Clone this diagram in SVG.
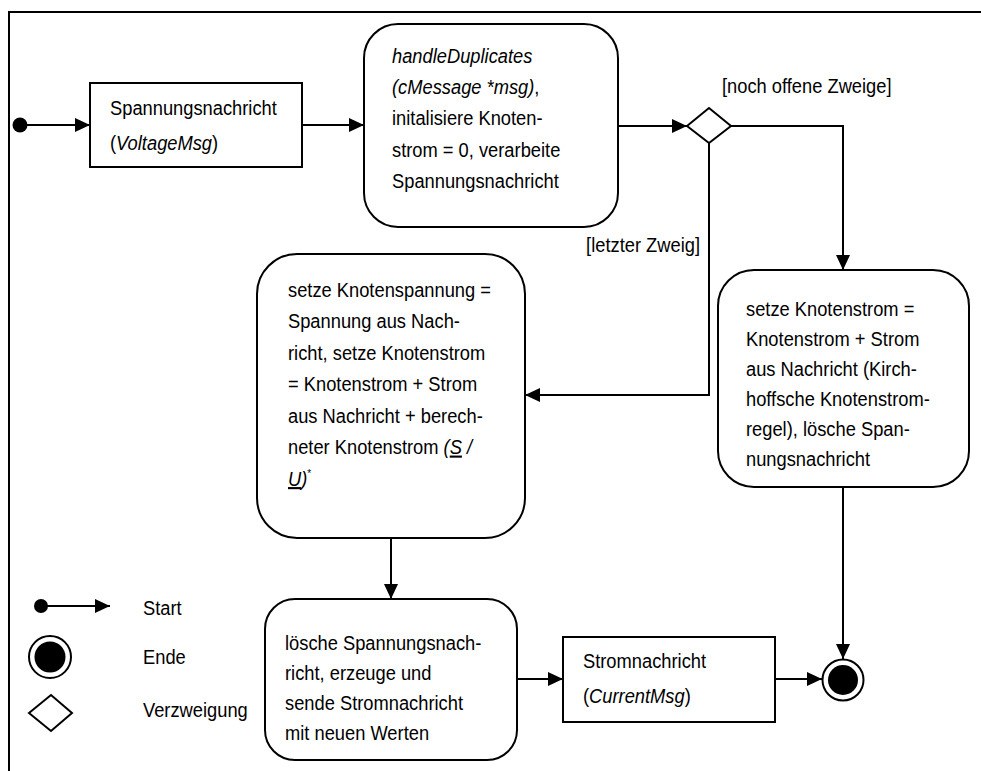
<svg xmlns="http://www.w3.org/2000/svg" width="981" height="771" viewBox="0 0 981 771">
  <defs>
    <marker id="arrow" markerUnits="userSpaceOnUse" markerWidth="15" markerHeight="14" refX="15" refY="7" orient="auto">
      <path d="M0,0 L15,7 L0,14 z" fill="#000"/>
    </marker>
    <style>
      text { font-family: "Liberation Sans", Arial, sans-serif; font-size: 18.3px; fill: #000; }
      .it { font-style: italic; }
      .ul { text-decoration: underline; }
      .node { fill: #fff; stroke: #000; stroke-width: 2; }
      .edge { fill: none; stroke: #000; stroke-width: 2; }
      .arr { marker-end: url(#arrow); }
      .frame { fill: none; stroke: #000; stroke-width: 2; }
    </style>
  </defs>
  <!-- each text is stretched 1.15x vertically about its own baseline: matrix(1 0 0 1.15 0 -0.15*y) -->

  <rect width="981" height="771" fill="#fff"/>

  <!-- diagram frame (open at right and bottom) -->
  <path class="frame" d="M9,771 V12 H981"/>

  <!-- connectors -->
  <g id="edges">
    <line class="edge arr" x1="20" y1="125" x2="90" y2="125"/>
    <line class="edge arr" x1="302" y1="125" x2="364" y2="125"/>
    <line class="edge arr" x1="618" y1="126" x2="687" y2="126"/>
    <path class="edge arr" d="M731,126 H843 V270"/>
    <path class="edge arr" d="M709,143 V395 H525"/>
    <line class="edge arr" x1="391" y1="538" x2="391" y2="599"/>
    <line class="edge arr" x1="517" y1="679" x2="563" y2="679"/>
    <line class="edge arr" x1="775" y1="679" x2="822" y2="679"/>
    <line class="edge arr" x1="843" y1="487" x2="843" y2="659"/>
    <text x="722" y="93" transform="matrix(1 0 0 1.15 0 -13.95)">[noch offene Zweige]</text>
    <text x="700" y="252" text-anchor="end" transform="matrix(1 0 0 1.15 0 -37.8)">[letzter Zweig]</text>
  </g>

  <!-- start node -->
  <g id="start">
    <circle cx="20" cy="125" r="7.5" fill="#000"/>
  </g>

  <!-- voltage message object -->
  <g id="voltage-msg">
    <rect class="node" x="90" y="83" width="212" height="84"/>
    <text x="110" y="115" transform="matrix(1 0 0 1.15 0 -17.25)">Spannungsnachricht</text>
    <text x="110" y="150" transform="matrix(1 0 0 1.15 0 -22.5)">(<tspan class="it">VoltageMsg</tspan>)</text>
  </g>

  <!-- handle duplicates action -->
  <g id="handle-duplicates">
    <rect class="node" x="364" y="24" width="254" height="203" rx="34" ry="34"/>
    <text x="392" y="63" class="it" transform="matrix(1 0 0 1.15 0 -9.45)">handleDuplicates</text>
    <text x="392" y="94" transform="matrix(1 0 0 1.15 0 -14.1)"><tspan class="it">(cMessage *msg)</tspan>,</text>
    <text x="392" y="125" transform="matrix(1 0 0 1.15 0 -18.75)">initalisiere Knoten-</text>
    <text x="392" y="157" transform="matrix(1 0 0 1.15 0 -23.55)">strom = 0, verarbeite</text>
    <text x="392" y="188" transform="matrix(1 0 0 1.15 0 -28.2)">Spannungsnachricht</text>
  </g>

  <!-- decision -->
  <g id="decision">
    <polygon class="node" points="687,126 709,108 731,126 709,143"/>
  </g>

  <!-- last branch action -->
  <g id="last-branch">
    <rect class="node" x="257" y="254" width="268" height="284" rx="40" ry="40"/>
    <text x="288" y="297" transform="matrix(1 0 0 1.15 0 -44.55)">setze Knotenspannung =</text>
    <text x="288" y="328.5" transform="matrix(1 0 0 1.15 0 -49.275)">Spannung aus Nach-</text>
    <text x="288" y="360" transform="matrix(1 0 0 1.15 0 -54)">richt, setze Knotenstrom</text>
    <text x="288" y="391.5" transform="matrix(1 0 0 1.15 0 -58.725)">= Knotenstrom + Strom</text>
    <text x="288" y="423" transform="matrix(1 0 0 1.15 0 -63.45)">aus Nachricht + berech-</text>
    <text x="288" y="454.5" transform="matrix(1 0 0 1.15 0 -68.175)">neter Knotenstrom <tspan class="it">(<tspan class="ul">S</tspan> /</tspan></text>
    <text x="288" y="486" transform="matrix(1 0 0 1.15 0 -72.9)"><tspan class="it"><tspan class="ul">U</tspan>)</tspan><tspan font-size="10" dy="-8">*</tspan></text>
  </g>

  <!-- open branches action -->
  <g id="open-branches">
    <rect class="node" x="718" y="270" width="251" height="217" rx="36" ry="36"/>
    <text x="746" y="316" transform="matrix(1 0 0 1.15 0 -47.4)">setze Knotenstrom =</text>
    <text x="746" y="346" transform="matrix(1 0 0 1.15 0 -51.9)">Knotenstrom + Strom</text>
    <text x="746" y="376" transform="matrix(1 0 0 1.15 0 -56.4)">aus Nachricht (Kirch-</text>
    <text x="746" y="406" transform="matrix(1 0 0 1.15 0 -60.9)">hoffsche Knotenstrom-</text>
    <text x="746" y="436" transform="matrix(1 0 0 1.15 0 -65.4)">regel), lösche Span-</text>
    <text x="746" y="466" transform="matrix(1 0 0 1.15 0 -69.9)">nungsnachricht</text>
  </g>

  <!-- send current action -->
  <g id="send-current">
    <rect class="node" x="265" y="599" width="252" height="161" rx="30" ry="30"/>
    <text x="285" y="650" transform="matrix(1 0 0 1.15 0 -97.5)">lösche Spannungsnach-</text>
    <text x="285" y="680" transform="matrix(1 0 0 1.15 0 -102)">richt, erzeuge und</text>
    <text x="285" y="710" transform="matrix(1 0 0 1.15 0 -106.5)">sende Stromnachricht</text>
    <text x="285" y="740" transform="matrix(1 0 0 1.15 0 -111)">mit neuen Werten</text>
  </g>

  <!-- current message object -->
  <g id="current-msg">
    <rect class="node" x="563" y="637" width="212" height="85"/>
    <text x="583" y="668" transform="matrix(1 0 0 1.15 0 -100.2)">Stromnachricht</text>
    <text x="583" y="703" transform="matrix(1 0 0 1.15 0 -105.45)">(<tspan class="it">CurrentMsg</tspan>)</text>
  </g>

  <!-- end node -->
  <g id="end">
    <circle cx="843" cy="680" r="20.5" fill="#fff" stroke="#000" stroke-width="2"/>
    <circle cx="843" cy="680" r="15" fill="#000"/>
  </g>

  <!-- legend -->
  <g id="legend">
    <circle cx="41" cy="606" r="7" fill="#000"/>
    <line class="edge arr" x1="41" y1="606" x2="110" y2="606"/>
    <text x="143" y="615" transform="matrix(1 0 0 1.15 0 -92.25)">Start</text>
    <circle cx="50" cy="657" r="21" fill="#fff" stroke="#000" stroke-width="2"/>
    <circle cx="50" cy="657" r="15.5" fill="#000"/>
    <text x="143" y="664" transform="matrix(1 0 0 1.15 0 -99.6)">Ende</text>
    <polygon class="node" points="29,713 51,695 72,713 51,731"/>
    <text x="143" y="717" transform="matrix(1 0 0 1.15 0 -107.55)">Verzweigung</text>
  </g>
</svg>
